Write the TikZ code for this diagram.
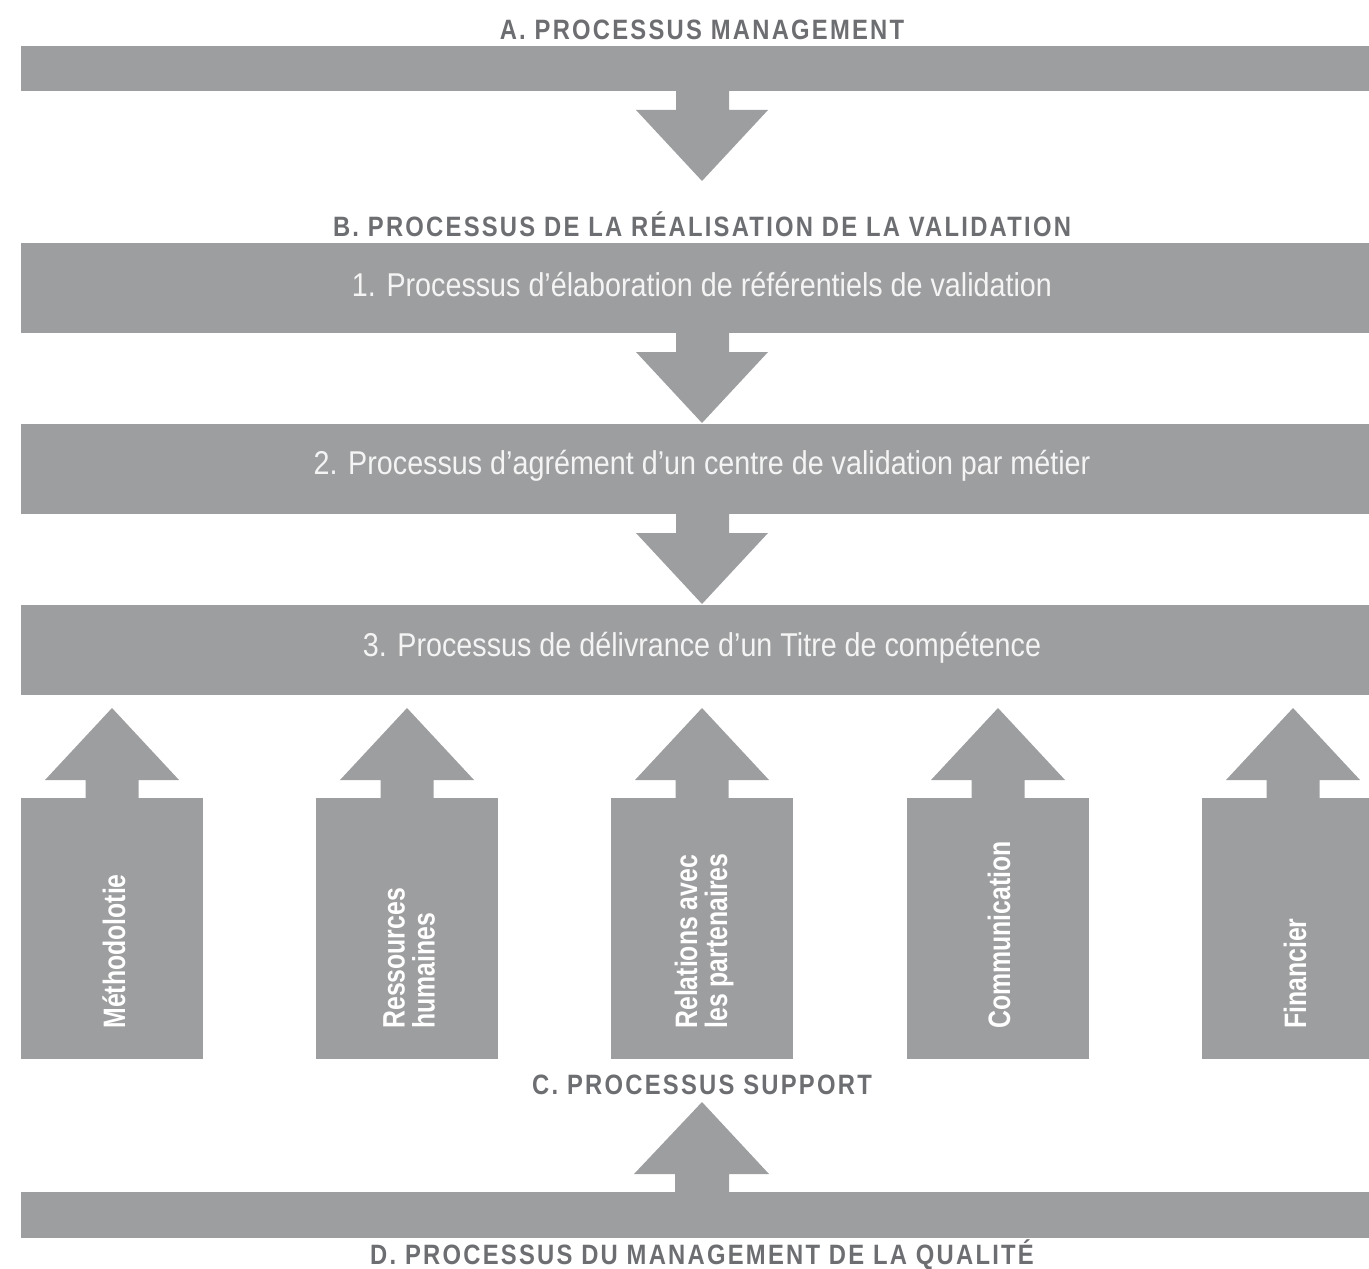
\documentclass[tikz,border=0pt]{standalone}
\usepackage{fontspec}
\setmainfont{Liberation Sans}
\newfontfamily\hdrfont{Liberation Sans}[FakeStretch=0.85,LetterSpace=8]
\newfontfamily\barfont{Liberation Sans}[FakeStretch=0.87]
\newfontfamily\vertfont{Liberation Sans}[FakeStretch=0.80]
\definecolor{bargray}{HTML}{9D9EA0}
\definecolor{hdrgray}{HTML}{6D6E71}
\definecolor{txtwhite}{HTML}{F4F4F4}
\tikzset{
  hdr/.style={font=\hdrfont\bfseries\fontsize{14}{16}\selectfont, text=hdrgray, inner sep=0pt},
  bartxt/.style={font=\barfont\fontsize{16.5}{19}\selectfont, text=txtwhite, inner sep=0pt},
  vtxt/.style={font=\vertfont\bfseries\fontsize{15.5}{15}\selectfont, text=white, inner sep=0pt, rotate=90, anchor=west, align=left},
  shapefill/.style={fill=bargray, draw=none},
}
\begin{document}
\begin{tikzpicture}[x=0.5pt,y=-0.5pt]
\useasboundingbox (0,0) rectangle (1369,1268);
% headers
\node[hdr] (hA) at (702,30) {A. PROCESSUS MANAGEMENT};
\node[hdr] (hB) at (702,224) {B. PROCESSUS DE LA RÉALISATION DE LA VALIDATION};
\node[hdr] (hC) at (702,1085) {C. PROCESSUS SUPPORT};
\node[hdr] (hD) at (702,1255) {D. PROCESSUS DU MANAGEMENT DE LA QUALITÉ};
% horizontal bars
\fill[shapefill] (21,46) rectangle (1369,91);
\fill[shapefill] (21,243) rectangle (1369,333);
\fill[shapefill] (21,424) rectangle (1369,514);
\fill[shapefill] (21,605) rectangle (1369,695);
\fill[shapefill] (21,1192) rectangle (1369,1238);
% down arrows
\foreach \t/\b in {91/110, 333/352, 514/533}{
  \pgfmathsetmacro{\tip}{\b+71}
  \fill[shapefill] (676,\t-1) -- (729,\t-1) -- (729,\b) -- (768,\b) -- (702,\tip) -- (636,\b) -- (676,\b) -- cycle;
}
% bar texts
\node[bartxt] (p1) at (702,285) {1. Processus d’élaboration de référentiels de validation};
\node[bartxt] (p2) at (702,466) {2. Processus d’agrément d’un centre de validation par métier};
\node[bartxt] (p3) at (702,648) {3. Processus de délivrance d’un Titre de compétence};
% support boxes with up arrows
\foreach \cx in {112,407,702,998,1293}{
  \fill[shapefill] (\cx-26.5,799) -- (\cx-26.5,780) -- (\cx-67,780) -- (\cx,708) -- (\cx+67,780) -- (\cx+26.5,780) -- (\cx+26.5,799) -- cycle;
  \fill[shapefill] (\cx-91,798) rectangle (\cx+91,1059);
}
\node[vtxt] (s1) at (114,1029) {Méthodolotie};
\node[vtxt] (s2) at (409,1029) {Ressources\\humaines};
\node[vtxt] (s3) at (704,1029) {Relations avec\\les partenaires};
\node[vtxt] (s4) at (999,1029) {Communication};
\node[vtxt] (s5) at (1295,1029) {Financier};
% bottom up arrow
\fill[shapefill] (675,1193) -- (675,1174) -- (634,1174) -- (702,1102) -- (769,1174) -- (729,1174) -- (729,1193) -- cycle;
\end{tikzpicture}
\end{document}
